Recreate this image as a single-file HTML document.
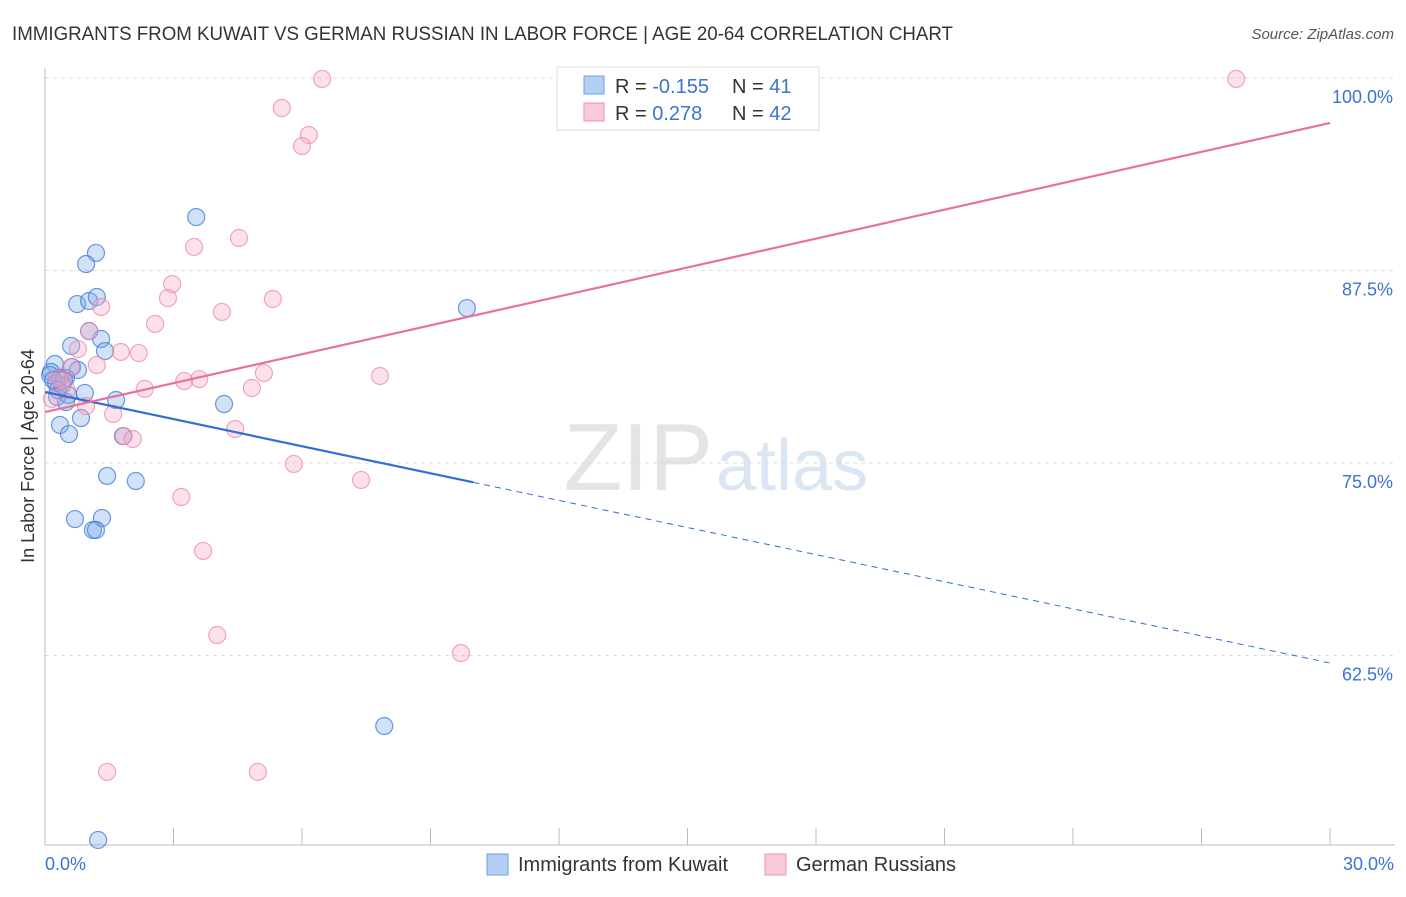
<!DOCTYPE html>
<html><head><meta charset="utf-8"><style>
body{margin:0;background:#fff;font-family:"Liberation Sans",sans-serif}
svg text{font-family:"Liberation Sans",sans-serif}
</style></head><body>
<svg id="chart" width="1406" height="892">
<text x="12" y="40" font-size="19" fill="#333" textLength="941" lengthAdjust="spacingAndGlyphs">IMMIGRANTS FROM KUWAIT VS GERMAN RUSSIAN IN LABOR FORCE | AGE 20-64 CORRELATION CHART</text>
<text x="1394" y="39" font-size="15" fill="#555" font-style="italic" text-anchor="end">Source: ZipAtlas.com</text>
<text x="713" y="490" font-size="96" fill="#e4e4e4" text-anchor="end" font-family="Liberation Serif">ZIP</text>
<text x="716" y="490" font-size="72" fill="#dbe6f4">atlas</text>
<g id="grid"></g>
<g id="axes"></g>
<g id="marks"></g>
<text transform="translate(34,456) rotate(-90)" font-size="18" fill="#333" text-anchor="middle">In Labor Force | Age 20-64</text>
<g>
<rect x="557" y="67" width="262" height="63" fill="#fff" stroke="#ddd"/>
<rect x="584" y="76" width="20" height="18" fill="#b3cff3" stroke="#6f9fe0"/>
<rect x="584" y="103" width="20" height="18" fill="#f9c9d8" stroke="#eb94b1"/>
<text x="615" y="93" font-size="20" fill="#333">R = <tspan fill="#3b73d4">-0.155</tspan></text>
<text x="732" y="93" font-size="20" fill="#333">N = <tspan fill="#3b73d4">41</tspan></text>
<text x="615" y="120" font-size="20" fill="#333">R = <tspan fill="#3b73d4"> 0.278</tspan></text>
<text x="732" y="120" font-size="20" fill="#333">N = <tspan fill="#3b73d4">42</tspan></text>
</g>
<g>
<rect x="487" y="854" width="21" height="21" fill="#b3cff3" stroke="#6f9fe0"/>
<text x="518" y="871" font-size="20" fill="#333">Immigrants from Kuwait</text>
<rect x="765" y="854" width="21" height="21" fill="#f9c9d8" stroke="#eb94b1"/>
<text x="796" y="871" font-size="20" fill="#333">German Russians</text>
</g>
</svg>
<script>
const blueX=[3.53,1.19,0.96,0.75,1.03,1.21,9.85,0.61,1.31,1.03,1.40,0.23,0.63,0.77,0.14,0.35,0.49,0.26,0.40,0.93,0.28,0.54,0.49,1.66,4.18,0.84,0.35,0.56,1.82,1.45,2.12,0.70,1.33,1.12,1.19,7.92,1.24,0.12,0.19,0.44,0.30];
const blueY=[90.97,88.64,87.92,85.32,85.52,85.78,85.06,82.60,83.05,83.57,82.27,81.43,81.23,81.04,80.91,80.52,80.52,80.19,80.06,79.55,79.29,79.42,78.96,79.09,78.83,77.92,77.47,76.88,76.75,74.16,73.83,71.36,71.43,70.65,70.65,57.92,50.52,80.71,80.39,80.39,79.74];
const pinkX=[6.47,27.81,5.53,6.16,6.00,4.53,3.48,2.97,2.87,5.32,1.31,4.13,2.57,1.03,1.77,2.19,0.77,1.21,0.61,5.11,3.25,3.60,7.82,2.33,0.51,4.83,0.40,0.96,1.59,1.84,2.05,4.44,5.81,7.38,3.18,3.69,4.02,9.71,1.45,4.97,0.28,0.16];
const pinkY=[99.94,99.94,98.05,96.30,95.58,89.61,89.03,86.62,85.71,85.65,85.13,84.81,84.03,83.57,82.21,82.14,82.40,81.36,81.23,80.84,80.32,80.45,80.65,79.81,79.74,79.87,80.32,78.70,78.18,76.75,76.56,77.21,74.94,73.90,72.79,69.29,63.83,62.66,54.94,54.94,80.52,79.16];
const blueTrend=[79.61,62.01];
const blueSolidEnd=10;
const pinkTrend=[78.31,97.08];
const yTicks=[100,87.5,75,62.5];
const yTickLabels=["100.0%","87.5%","75.0%","62.5%"];
const xTicks=[0,3,6,9,12,15,18,21,24,27,30];

const NS="http://www.w3.org/2000/svg";
const sx=v=>45+v/30*1285;
const sy=v=>78+(100-v)/12.5*192.5;
function mk(tag,attrs,parent){const e=document.createElementNS(NS,tag);for(const k in attrs)e.setAttribute(k,attrs[k]);document.getElementById(parent).appendChild(e);return e;}

yTicks.forEach((t,i)=>{
 const l=mk('line',{x1:45,x2:1395,y1:sy(t),y2:sy(t),stroke:'#ddd','stroke-dasharray':'4 4'},'grid');
 
 
 const tx=mk('text',{x:1393,y:sy(t)+25,'font-size':18,fill:'#3b73d4','text-anchor':'end'},'axes');
 tx.textContent=yTickLabels[i];
 
 
});
const ax=mk('line',{x1:45,x2:45,y1:68,y2:845,stroke:'#bbb'},'axes');


const bx=mk('line',{x1:45,x2:1395,y1:845,y2:845,stroke:'#bbb'},'axes');


xTicks.forEach(t=>{
 const l=mk('line',{x1:sx(t),x2:sx(t),y1:828,y2:845,stroke:'#bbb'},'axes');
 
 
});
const xl0=mk('text',{x:45,y:870,'font-size':18,fill:'#3b73d4'},'axes');xl0.textContent='0.0%';


const xl1=mk('text',{x:1394,y:870,'font-size':18,fill:'#3b73d4','text-anchor':'end'},'axes');xl1.textContent='30.0%';



blueX.forEach((x,i)=>{
 const c=mk('circle',{cx:sx(x),cy:sy(blueY[i]),r:8.5,fill:'rgba(120,170,235,0.35)',stroke:'rgba(60,120,215,0.75)','stroke-width':1.2},'marks');
 
 
});
pinkX.forEach((x,i)=>{
 const c=mk('circle',{cx:sx(x),cy:sy(pinkY[i]),r:8.5,fill:'rgba(245,170,195,0.35)',stroke:'rgba(235,130,165,0.7)','stroke-width':1.2},'marks');
 
 
});
const by=x=>blueTrend[0]+(blueTrend[1]-blueTrend[0])*x/30;
const b1=mk('line',{x1:sx(0),y1:sy(blueTrend[0]),x2:sx(blueSolidEnd),y2:sy(by(blueSolidEnd)),stroke:'#2f6fd6','stroke-width':2.2},'marks');


const b2=mk('line',{x1:sx(blueSolidEnd),y1:sy(by(blueSolidEnd)),x2:sx(30),y2:sy(blueTrend[1]),stroke:'#2f6fd6','stroke-width':1,'stroke-dasharray':'6 5'},'marks');


const p1=mk('line',{x1:sx(0),y1:sy(pinkTrend[0]),x2:sx(30),y2:sy(pinkTrend[1]),stroke:'#e8719b','stroke-width':2.2},'marks');


</script>
</body></html>
